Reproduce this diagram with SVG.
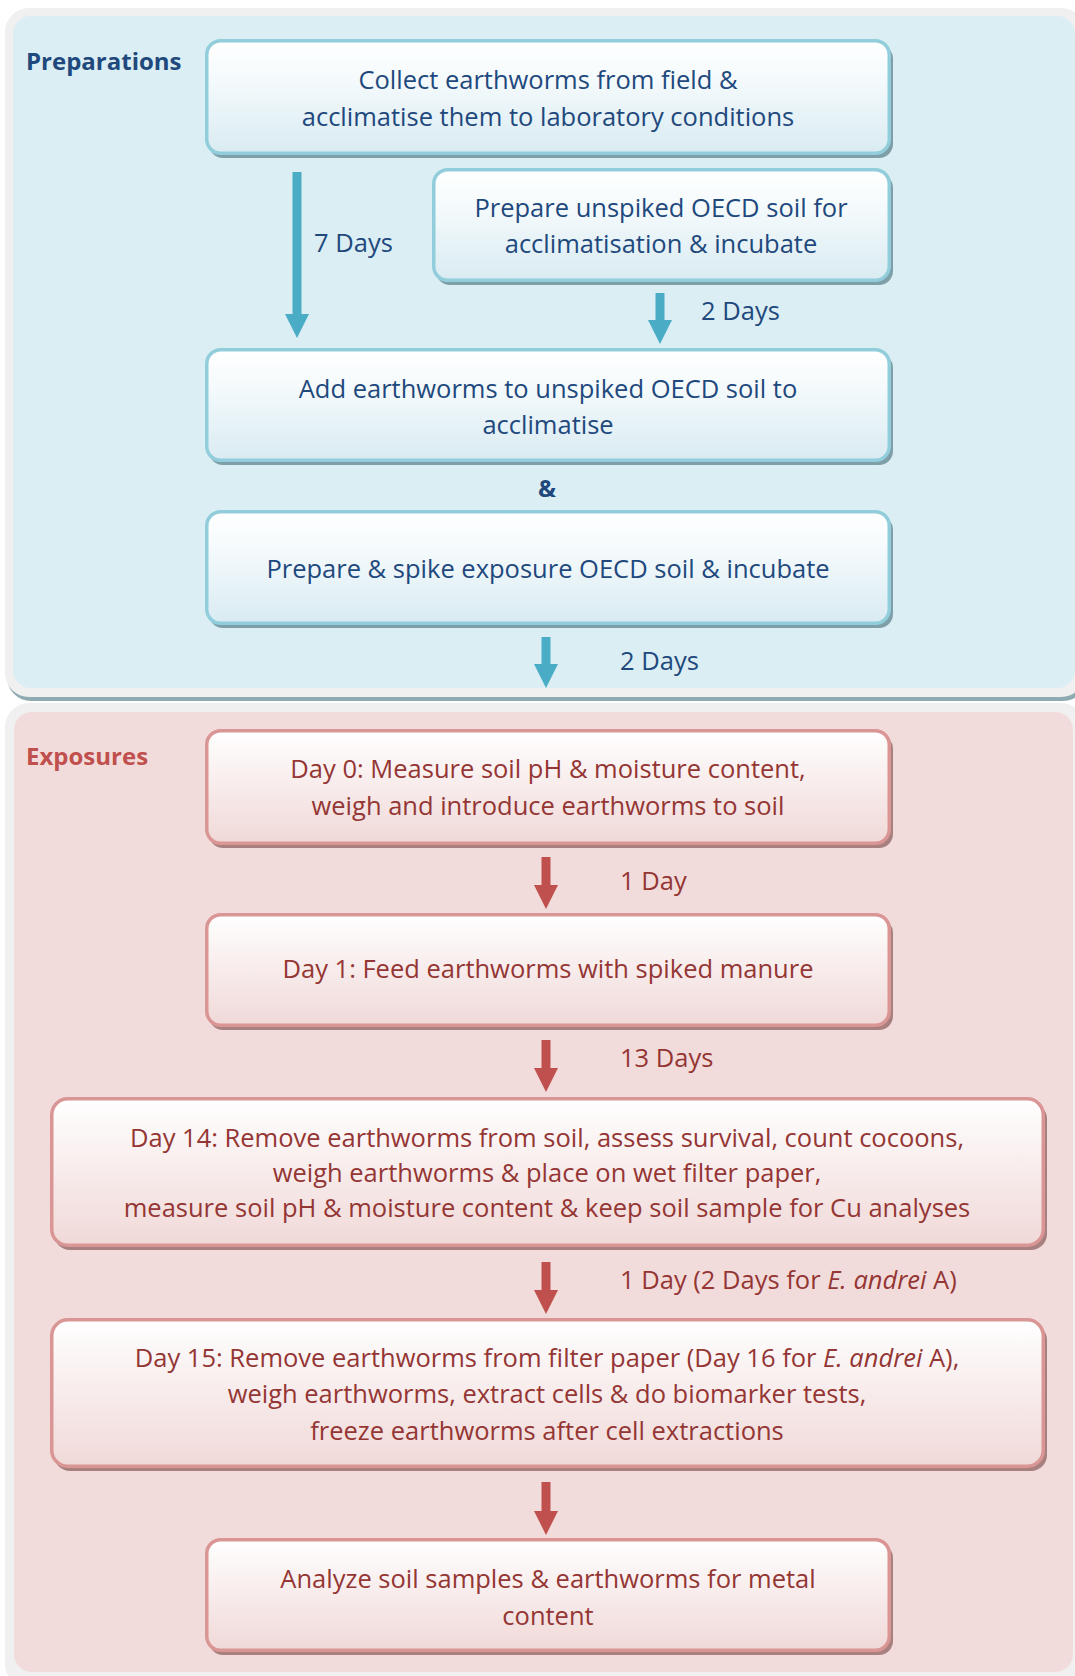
<svg xmlns="http://www.w3.org/2000/svg" width="1075" height="1676" viewBox="0 0 1075 1676">
<defs>
<linearGradient id="gb" x1="0" y1="0" x2="0" y2="1">
<stop offset="0" stop-color="#ffffff"/><stop offset="0.35" stop-color="#f4fafc"/><stop offset="1" stop-color="#d9ebf2"/>
</linearGradient>
<linearGradient id="gr" x1="0" y1="0" x2="0" y2="1">
<stop offset="0" stop-color="#ffffff"/><stop offset="0.35" stop-color="#faf1f1"/><stop offset="1" stop-color="#f0d9d8"/>
</linearGradient>
<marker id="ab" markerUnits="userSpaceOnUse" markerWidth="24" markerHeight="24" refX="0" refY="12" orient="auto"><path d="M0,0 L24,12 L0,24 z" fill="#4bacc6"/></marker>
<marker id="ar" markerUnits="userSpaceOnUse" markerWidth="24" markerHeight="24" refX="0" refY="12" orient="auto"><path d="M0,0 L24,12 L0,24 z" fill="#c0504d"/></marker>
<style>
.t{font-family:"Open Sans","Noto Sans","DejaVu Sans",sans-serif;font-size:25.5px;text-anchor:middle}
.tb{fill:#1f497d}
.tr{fill:#943634}
.lab{font-family:"Open Sans","Noto Sans","DejaVu Sans",sans-serif;font-size:25.5px}
.h{font-family:"Open Sans","Noto Sans","DejaVu Sans",sans-serif;font-size:24px;font-weight:bold}
.bb{fill:url(#gb);stroke:#92cddc;stroke-width:3.5}
.br{fill:url(#gr);stroke:#d99694;stroke-width:3.5}
.sb{fill:#7e9fa7}
.sr{fill:#a88080}
.cb{stroke:#4bacc6;stroke-width:9;fill:none;marker-end:url(#ab)}
.cr{stroke:#c0504d;stroke-width:9;fill:none;marker-end:url(#ar)}
</style>
</defs>
<rect width="1075" height="1676" fill="#ffffff"/>
<g id="panel-preparations">
<rect x="7" y="11" width="1080" height="690" rx="24" fill="#8fabb2"/>
<rect x="5" y="8" width="1080" height="689" rx="24" fill="#f0f0f0"/>
<rect x="13" y="16" width="1062" height="672" rx="18" fill="#daeef3"/>
<text class="h" x="26" y="70" fill="#1f497d">Preparations</text>
</g>
<g id="panel-exposures">
<rect x="5" y="703" width="1080" height="985" rx="24" fill="#f0f0f0"/>
<rect x="14" y="712" width="1059" height="960" rx="18" fill="#f2dcdb"/>
<text class="h" x="26" y="765" fill="#c0504d">Exposures</text>
</g>
<g id="connectors">
<line class="cb" x1="297" y1="172" x2="297" y2="314"/>
<line class="cb" x1="660" y1="293" x2="660" y2="320"/>
<line class="cb" x1="546" y1="637" x2="546" y2="664"/>
<line class="cr" x1="546" y1="857" x2="546" y2="885"/>
<line class="cr" x1="546" y1="1040" x2="546" y2="1068"/>
<line class="cr" x1="546" y1="1262" x2="546" y2="1290"/>
<line class="cr" x1="546" y1="1482" x2="546" y2="1511"/>
<text class="lab tb" x="314" y="252">7 Days</text>
<text class="lab tb" x="701" y="320">2 Days</text>
<text class="lab tb" x="620" y="670">2 Days</text>
<text class="lab tr" x="620" y="890">1 Day</text>
<text class="lab tr" x="620" y="1067">13 Days</text>
<text class="lab tr" x="620" y="1289">1 Day (2 Days for <tspan font-style="italic">E. andrei</tspan> A)</text>
</g>
<g id="n1">
<rect class="sb" x="209" y="45" width="684" height="113" rx="14"/>
<rect class="bb" x="206.75" y="40.75" width="682.5" height="112.5" rx="14"/>
<text class="t tb" x="548" y="89">Collect earthworms from field &amp;</text>
<text class="t tb" x="548" y="126">acclimatise them to laboratory conditions</text>
</g>
<g id="n2">
<rect class="sb" x="436" y="174" width="457" height="111" rx="14"/>
<rect class="bb" x="433.75" y="169.75" width="455.5" height="110.5" rx="14"/>
<text class="t tb" x="661" y="217">Prepare unspiked OECD soil for</text>
<text class="t tb" x="661" y="253">acclimatisation &amp; incubate</text>
</g>
<g id="n3">
<rect class="sb" x="209" y="354" width="684" height="111" rx="14"/>
<rect class="bb" x="206.75" y="349.75" width="682.5" height="110.5" rx="14"/>
<text class="t tb" x="548" y="398">Add earthworms to unspiked OECD soil to</text>
<text class="t tb" x="548" y="434">acclimatise</text>
</g>
<text class="h" x="547" y="497" fill="#1f497d" text-anchor="middle">&amp;</text>
<g id="n4">
<rect class="sb" x="209" y="516" width="684" height="112" rx="14"/>
<rect class="bb" x="206.75" y="511.75" width="682.5" height="111.5" rx="14"/>
<text class="t tb" x="548" y="578">Prepare &amp; spike exposure OECD soil &amp; incubate</text>
</g>
<g id="n5">
<rect class="sr" x="209" y="735" width="684" height="113" rx="14"/>
<rect class="br" x="206.75" y="730.75" width="682.5" height="112.5" rx="14"/>
<text class="t tr" x="548" y="778">Day 0: Measure soil pH &amp; moisture content,</text>
<text class="t tr" x="548" y="815">weigh and introduce earthworms to soil</text>
</g>
<g id="n6">
<rect class="sr" x="209" y="919" width="684" height="111" rx="14"/>
<rect class="br" x="206.75" y="914.75" width="682.5" height="110.5" rx="14"/>
<text class="t tr" x="548" y="978">Day 1: Feed earthworms with spiked manure</text>
</g>
<g id="n7">
<rect class="sr" x="54" y="1103" width="993" height="147" rx="16"/>
<rect class="br" x="51.75" y="1098.75" width="991.5" height="146.5" rx="16"/>
<text class="t tr" x="547" y="1147">Day 14: Remove earthworms from soil, assess survival, count cocoons,</text>
<text class="t tr" x="547" y="1182">weigh earthworms &amp; place on wet filter paper,</text>
<text class="t tr" x="547" y="1217">measure soil pH &amp; moisture content &amp; keep soil sample for Cu analyses</text>
</g>
<g id="n8">
<rect class="sr" x="54" y="1324" width="993" height="147" rx="16"/>
<rect class="br" x="51.75" y="1319.75" width="991.5" height="146.5" rx="16"/>
<text class="t tr" x="547" y="1367">Day 15: Remove earthworms from filter paper (Day 16 for <tspan font-style="italic">E. andrei</tspan> A),</text>
<text class="t tr" x="547" y="1403">weigh earthworms, extract cells &amp; do biomarker tests,</text>
<text class="t tr" x="547" y="1440">freeze earthworms after cell extractions</text>
</g>
<g id="n9">
<rect class="sr" x="209" y="1544" width="684" height="111" rx="14"/>
<rect class="br" x="206.75" y="1539.75" width="682.5" height="110.5" rx="14"/>
<text class="t tr" x="548" y="1588">Analyze soil samples &amp; earthworms for metal</text>
<text class="t tr" x="548" y="1625">content</text>
</g>
</svg>
